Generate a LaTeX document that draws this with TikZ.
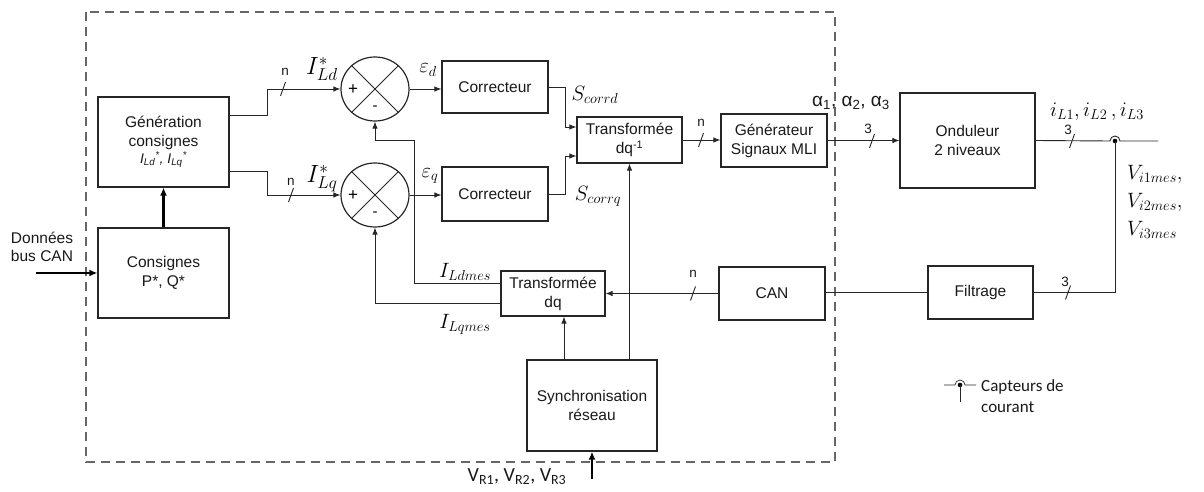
\documentclass[tikz,border=0pt]{standalone}
\usepackage{fontspec}
\setmainfont{Liberation Sans}
\newfontfamily\calib{Carlito}
\usetikzlibrary{arrows.meta,shapes.geometric,calc}
\newcommand{\bustick}[1]{\draw[wire] ($(#1)+(-2.5,7)$) -- ($(#1)+(2.5,-7)$);}
\begin{document}
\begin{tikzpicture}[x=1pt,y=-1pt,
  box/.style={draw=black!85, line width=1.2pt, fill=white, align=center, inner sep=0pt, font=\fontsize{15.5}{19}\selectfont, text=black!90},
  wire/.style={draw=black!85, line width=0.9pt},
  arr/.style={wire, -{Latex[length=7pt,width=5.5pt]}},
  bigarr/.style={draw=black, line width=2.4pt, -{Latex[length=8pt,width=7pt]}},
  ml/.style={font=\fontsize{22}{26}\selectfont, inner sep=0pt},
  mlb/.style={font=\fontsize{24}{28}\selectfont, inner sep=0pt},
  sm/.style={font=\fontsize{13.5}{16}\selectfont, inner sep=0pt, text=black!90},
  sumnode/.style={draw=black!85, line width=1.2pt, ellipse, minimum width=68pt, minimum height=64pt, inner sep=0pt},
]
\useasboundingbox (0,0) rectangle (1204,492);
% frame
\draw[draw=black!60, line width=2.3pt, dash pattern=on 9pt off 6pt] (86,12) rectangle (835,462);

% blocks
\node[box, minimum width=131pt, minimum height=90pt] (gen) at (163.5,142) {Génération\\consignes\\[-2pt]{\fontsize{14}{16}\selectfont\itshape I\textsubscript{Ld}\textsuperscript{*}, I\textsubscript{Lq}\textsuperscript{*}}};
\node[box, minimum width=131pt, minimum height=90pt] (cons) at (163.5,273) {Consignes\\P*, Q*};
\node[sumnode] (sumd) at (375,89) {};
\node[sumnode] (sumq) at (375,195) {};
\node[box, minimum width=106pt, minimum height=52pt] (cord) at (495,87) {Correcteur};
\node[box, minimum width=106pt, minimum height=54pt] (corq) at (495,194) {Correcteur};
\node[box, minimum width=105pt, minimum height=46pt] (tinv) at (629.5,140) {Transformée\\dq\textsuperscript{-1}};
\node[box, minimum width=106pt, minimum height=53pt] (gmli) at (774,140.5) {Générateur\\Signaux MLI};
\node[box, minimum width=135pt, minimum height=95pt] (ond) at (967.5,140.5) {Onduleur\\2 niveaux};
\node[box, minimum width=105pt, minimum height=53pt] (filt) at (980.5,292.5) {Filtrage};
\node[box, minimum width=106pt, minimum height=53pt] (can) at (772,293.5) {CAN};
\node[box, minimum width=104pt, minimum height=45pt] (tdq) at (553,293.5) {Transformée\\dq};
\node[box, minimum width=130pt, minimum height=91pt] (sync) at (592,405.5) {Synchronisation\\réseau};

% summing junction marks
\foreach \s in {sumd,sumq}{
  \draw[wire] (\s.45) -- (\s.225);
  \draw[wire] (\s.135) -- (\s.-45);
  \node[font=\fontsize{17}{17}\selectfont, inner sep=0pt] at ($(\s)+(-22,1)$) {+};
  \node[font=\fontsize{15}{15}\selectfont, inner sep=0pt] at ($(\s)+(0,19)$) {-};
}

% inputs
\coordinate (donin) at (36,273);
\draw[bigarr] (donin) -- (cons.west);
\node[font=\fontsize{15.5}{18.5}\selectfont, align=center, inner sep=0pt, text=black!90] (donlab) at (42,247) {Données\\bus CAN};
\draw[bigarr] (cons.north) -- (gen.south);

% references to summing junctions
\draw[arr] (gen.east |- 0,115) -- ++(38,0) |- (sumd.west);
\coordinate (t1) at (283,89); \bustick{t1}
\node[sm] (n1) at (285,72) {n};
\node[mlb] (ild) at (322,69) {$I^*_{Ld}$};
\draw[arr] (gen.east |- 0,171) -- ++(38,0) |- (sumq.west);
\coordinate (t2) at (291,195); \bustick{t2}
\node[sm] (n2) at (291,182) {n};
\node[mlb] (ilq) at (322,179) {$I^*_{Lq}$};

% errors
\draw[arr] (sumd.east) -- (cord.west |- sumd.east);
\node[ml] (ed) at (428,70) {$\varepsilon_d$};
\draw[arr] (sumq.east) -- (corq.west |- sumq.east);
\node[ml] (eq) at (430,176) {$\varepsilon_q$};

% correctors to inverse transform
\draw[arr] (cord.east) -- ++(17,0) |- (tinv.west |- 0,127);
\node[ml] (scd) at (595,95) {$S_{corrd}$};
\draw[arr] (corq.east) -- ++(17,0) |- (tinv.west |- 0,156);
\node[ml] (scq) at (598,196) {$S_{corrq}$};

% to MLI
\draw[arr] (tinv.east) -- (gmli.west |- tinv.east);
\coordinate (t3) at (701,140); \bustick{t3}
\node[sm] (n3) at (701,123) {n};

% to inverter
\draw[arr] (gmli.east) -- (ond.west |- gmli.east);
\coordinate (t4) at (872,141); \bustick{t4}
\node[sm] (n4) at (868,129) {3};
\node[font=\fontsize{19}{22}\selectfont, inner sep=0pt, text=black!90] (alab) at (851,103) {α\textsubscript{1}, α\textsubscript{2}, α\textsubscript{3}};

% output and sensor
\coordinate (sens) at (1115,141);
\coordinate (outend) at (1158,141);
\draw[wire] (ond.east) -- ($(sens)+(-5,0)$) arc[start angle=180, end angle=0, radius=5pt] -- (outend);
\fill[black] (sens) circle (2.3pt);
\coordinate (t5) at (1072,141); \bustick{t5}
\node[sm] (n5) at (1068,130) {3};
\node[ml] (ilab) at (1097,112) {$i_{L1}, i_{L2}\,, i_{L3}$};
\node[ml, anchor=west] (v1) at (1127,174) {$V_{i1mes},$};
\node[ml, anchor=west] (v2) at (1127,202) {$V_{i2mes},$};
\node[ml, anchor=west] (v3) at (1127,230) {$V_{i3mes}$};
\draw[wire] (sens) |- (filt.east);
\coordinate (t6) at (1068,292.5); \bustick{t6}
\node[sm] (n6) at (1065,282) {3};

% measurement chain
\draw[wire] (filt.west) -- (can.east |- filt.west);
\draw[arr] (can.west) -- (tdq.east |- can.west);
\coordinate (t7) at (693,293.5); \bustick{t7}
\node[sm] (n7) at (693,274) {n};

% feedback
\draw[arr] (tdq.west |- 0,283) -| ++(-86,-143) -| (sumd.south);
\draw[arr] (tdq.west |- 0,303) -| (sumq.south);
\node[ml] (ildm) at (465,272) {$I_{Ldmes}$};
\node[ml] (ilqm) at (465,324) {$I_{Lqmes}$};

% synchronisation
\draw[arr] (sync.north -| 564,0) -- (tdq.south -| 564,0);
\draw[arr] (sync.north -| tinv.south) -- (tinv.south);
\coordinate (vrin) at (592,479);
\draw[bigarr] (vrin) -- (sync.south);
\node[font=\calib\fontsize{20}{22}\selectfont, inner sep=0pt, text=black!90] (vrlab) at (517,477) {V\textsubscript{R1}, V\textsubscript{R2}, V\textsubscript{R3}};

% legend
\coordinate (leg) at (960,385);
\draw[wire, line width=0.7pt] ($(leg)+(-16,0)$) -- ($(leg)+(-5,0)$) arc[start angle=180, end angle=0, radius=5pt] -- ($(leg)+(16,0)$);
\fill[black] (leg) circle (2.3pt);
\draw[wire, line width=0.7pt] (leg) -- ++(0,17);
\node[font=\calib\fontsize{17}{21}\selectfont, align=left, anchor=west, inner sep=0pt, text=black!90] (leglab) at (981,396) {Capteurs de\\courant};
\end{tikzpicture}
\end{document}
